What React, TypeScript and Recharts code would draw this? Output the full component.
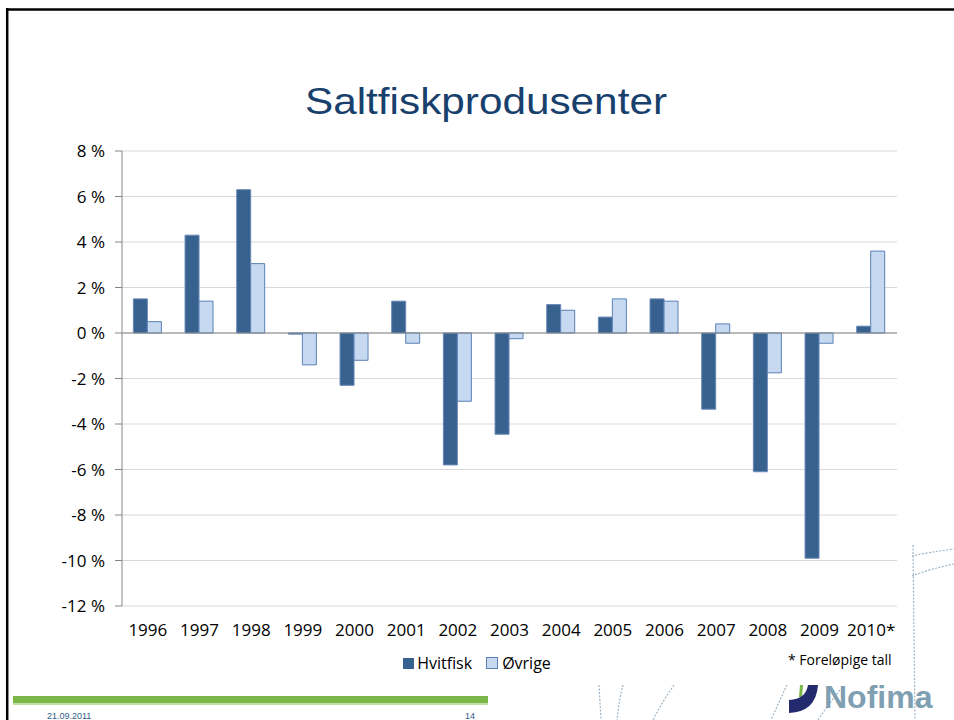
import React from 'react';
import {
  Bar,
  BarChart,
  CartesianGrid,
  Legend,
  ReferenceLine,
  XAxis,
  YAxis
} from 'recharts';

const years = [
  '1996', '1997', '1998', '1999', '2000', '2001', '2002', '2003',
  '2004', '2005', '2006', '2007', '2008', '2009', '2010*'
];
const hvitfisk = [1.5, 4.3, 6.3, -0.05, -2.3, 1.4, -5.8, -4.45, 1.25, 0.7, 1.5, -3.35, -6.1, -9.9, 0.3];
const ovrige = [0.5, 1.4, 3.05, -1.4, -1.2, -0.45, -3.0, -0.25, 1.0, 1.5, 1.4, 0.4, -1.75, -0.45, 3.6];
const yTicks = [-12, -10, -8, -6, -4, -2, 0, 2, 4, 6, 8];

const data = years.map((year, i) => ({
  year,
  Hvitfisk: hvitfisk[i],
  Øvrige: ovrige[i]
}));

const DARK = '#37618f';
const LIGHT = '#c6d9f1';
const tickFont = { fontFamily: 'Open Sans', fontSize: 17, fill: '#000' };

const LegendContent = () => (
  <div
    style={{
      display: 'flex',
      justifyContent: 'center',
      alignItems: 'center',
      fontFamily: 'Open Sans',
      fontSize: 16,
      color: '#000'
    }}
  >
    <span style={{ width: 11, height: 11, background: DARK, marginRight: 3 }} />
    <span style={{ marginRight: 14 }}>Hvitfisk</span>
    <span
      style={{
        width: 10,
        height: 10,
        background: LIGHT,
        border: '1px solid #5b80b6',
        marginRight: 4
      }}
    />
    <span>Øvrige</span>
  </div>
);

const dashed = {
  stroke: '#9fb4c4',
  strokeWidth: 1.2,
  strokeDasharray: '2 1.5',
  fill: 'none'
};

const App: React.FC = () => {
  return (
    <div style={{ position: 'absolute', left: 0, top: 0, width: 954, height: 720, background: '#fff' }}>
      <BarChart
        width={954}
        height={720}
        data={data}
        barCategoryGap="22%"
        barGap={0}
        margin={{ top: 151, right: 57, left: 62, bottom: 84 }}
      >
        <CartesianGrid vertical={false} stroke="#d9d9d9" />
        <XAxis
          dataKey="year"
          height={30}
          axisLine={false}
          tickLine={false}
          tickMargin={12}
          interval={0}
          tick={tickFont}
        />
        <YAxis
          width={60}
          domain={[-12, 8]}
          ticks={yTicks}
          interval={0}
          tickFormatter={(v: number) => `${v} %`}
          axisLine={{ stroke: '#868686' }}
          tickLine={{ stroke: '#868686' }}
          tickSize={7}
          tickMargin={10}
          tick={tickFont}
        />
        <ReferenceLine y={0} stroke="#868686" />
        <Legend
          layout="horizontal"
          verticalAlign="middle"
          align="center"
          wrapperStyle={{ top: 652, left: 0, width: 954 }}
          content={LegendContent}
        />
        <Bar dataKey="Hvitfisk" fill={DARK} stroke="#6a8bb6" strokeWidth={1} isAnimationActive={false} />
        <Bar dataKey="Øvrige" fill={LIGHT} stroke="#5b80b6" strokeWidth={1} isAnimationActive={false} />
      </BarChart>
      <svg
        width={954}
        height={720}
        style={{ position: 'absolute', left: 0, top: 0, pointerEvents: 'none' }}
      >
        <line x1={6} y1={9.5} x2={954} y2={9.5} stroke="#000" strokeWidth={2.5} />
        <line x1={7.2} y1={8} x2={7.2} y2={720} stroke="#000" strokeWidth={2.5} />
        <text
          x={305}
          y={114}
          fontFamily="Liberation Sans"
          fontSize={37}
          fill="#17406d"
          textLength={362}
          lengthAdjust="spacingAndGlyphs"
        >
          Saltfiskprodusenter
        </text>
        <text x={788} y={665} fontFamily="Open Sans" fontSize={14} fill="#000">
          * Foreløpige tall
        </text>
        <rect x={13} y={696} width={475} height={7} fill="#7ab648" />
        <rect x={13} y={703} width={475} height={2} fill="#c3dea8" />
        <text x={47} y={718.5} fontFamily="Liberation Sans" fontSize={9} fill="#2d5d8a">
          21.09.2011
        </text>
        <text x={465} y={718.5} fontFamily="Liberation Sans" fontSize={9} fill="#2d5d8a">
          14
        </text>
        <path d="M913 545 L915 720" {...dashed} />
        <path d="M912 556 Q930 552 954 549" {...dashed} />
        <path d="M912 576 Q930 569 954 564" {...dashed} />
        <path d="M599 685 L601 720" {...dashed} />
        <path d="M623 685 Q619 700 617 720" {...dashed} />
        <path d="M674 685 Q662 702 653 720" {...dashed} />
        <path d="M787 685 Q779 702 771 720" {...dashed} />
        <path d="M840 690 Q828 705 818 720" {...dashed} />
        <path d="M800 685 L803 685 L802 697 L799 697 Z" fill="#7ab648" />
        <path d="M789 700 Q806 699 808 685 L818 685 Q816 712 789 713 Z" fill="#242a6e" />
        <text x={824} y={708} fontFamily="Liberation Sans" fontWeight="bold" fontSize={32} fill="#7f9fb2">
          Nofima
        </text>
      </svg>
    </div>
  );
};

export default App;
